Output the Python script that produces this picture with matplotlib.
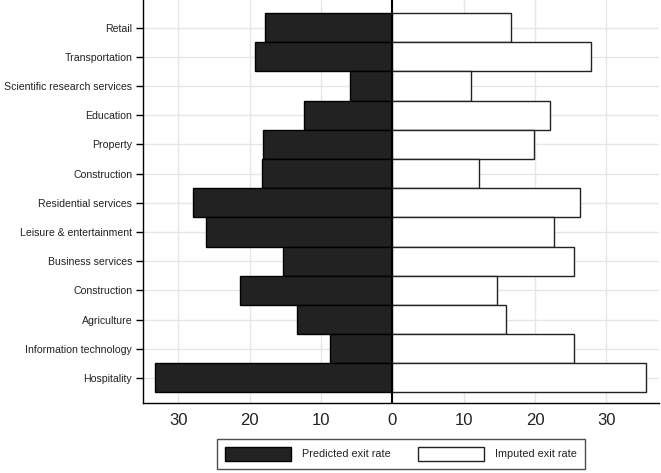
import matplotlib
matplotlib.use("Agg")
import matplotlib.pyplot as plt
import numpy as np

categories = ["Retail", "Transportation", "Scientific research services", "Education",
              "Property", "Construction", "Residential services", "Leisure & entertainment",
              "Business services", "Construction", "Agriculture", "Information technology",
              "Hospitality"]
predicted = [17.9, 19.2, 5.9, 12.4, 18.1, 18.3, 27.9, 26.1, 15.3, 21.4, 13.4, 8.7, 33.3]
imputed = [16.6, 27.9, 11.0, 22.1, 19.8, 12.1, 26.3, 22.6, 25.4, 14.6, 15.9, 25.5, 35.6]
xticks = [-30, -20, -10, 0, 10, 20, 30]
xticklabels = ["30", "20", "10", "0", "10", "20", "30"]

plt.rcParams['font.family'] = ['Liberation Sans', 'DejaVu Sans']

fig = plt.figure(figsize=(6.61, 4.73), dpi=100)
ax = fig.add_axes([143.3/661, 1 - 403/473, (658.5-143.3)/661, 403/473])

n = len(categories)
y = np.arange(n)[::-1]
ax.barh(y, [-v for v in predicted], height=1.0, color="#222222", edgecolor="black",
        linewidth=1.0, label="Predicted exit rate", zorder=3)
ax.barh(y, imputed, height=1.0, color="white", edgecolor="#222222",
        linewidth=1.0, label="Imputed exit rate", zorder=3)
ax.axvline(0, color="black", linewidth=1.5, zorder=4)

ax.set_xlim(-34.9, 37.3)
ax.set_ylim(-0.86, 12.95)
ax.set_yticks(y)
ax.set_yticklabels(categories, fontsize=7.6, color="#222222")
ax.set_xticks(xticks)
ax.set_xticklabels(xticklabels, fontsize=12, color="#222222")
ax.tick_params(axis='x', length=0, pad=7)
ax.tick_params(axis='y', length=5, width=1, color="black", pad=3)
ax.grid(True, color="#e6e6e6", linewidth=1.0, zorder=0)
ax.set_axisbelow(True)
for s in ["top", "right"]:
    ax.spines[s].set_visible(False)
ax.spines["left"].set_linewidth(1.0)
ax.spines["bottom"].set_linewidth(1.0)

leg = fig.legend(loc="center", bbox_to_anchor=(400.8/661, 1 - 453.7/473), ncol=2,
                 fontsize=7.8, frameon=True, fancybox=False, edgecolor="#222222",
                 handlelength=6.1, handleheight=1.57, handletextpad=1.0, columnspacing=2.5,
                 borderpad=0.74)
leg.get_frame().set_linewidth(1.0)
for t in leg.get_texts():
    t.set_color("#222222")

fig.savefig("out.png", dpi=100)
